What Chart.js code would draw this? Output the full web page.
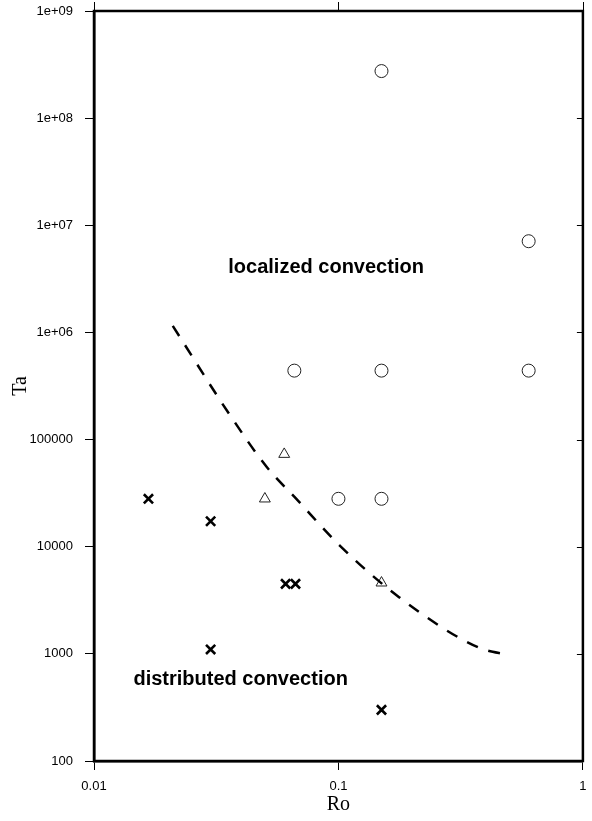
<!DOCTYPE html>
<html>
<head>
<meta charset="utf-8">
<script src="https://cdn.jsdelivr.net/npm/chart.js@4/dist/chart.umd.min.js"></script>
<style>
html,body{margin:0;padding:0;background:#fff;}
#wrap{width:592px;height:821px;}
</style>
</head>
<body>
<div id="wrap"><canvas id="c" width="592" height="821"></canvas></div>
<script>
// ---- data ----
const xTicks = [0.01, 0.1, 1];
const xTickLabels = ['0.01', '0.1', '1'];
const yTicks = [100, 1000, 10000, 100000, 1e6, 1e7, 1e8, 1e9];
const yTickLabels = ['100', '1000', '10000', '100000', '1e+06', '1e+07', '1e+08', '1e+09'];

const circleRo = [0.15, 0.6, 0.066, 0.15, 0.6, 0.1, 0.15];
const circleTa = [2.75e8, 7.1e6, 4.4e5, 4.4e5, 4.4e5, 2.8e4, 2.8e4];

const triangleRo = [0.06, 0.05, 0.15];
const triangleTa = [7.3e4, 2.8e4, 4.6e3];

const crossRo = [0.0167, 0.03, 0.0608, 0.0667, 0.03, 0.15];
const crossTa = [2.8e4, 1.73e4, 4.5e3, 4.5e3, 1.1e3, 300];

const boundaryRo = [0.021, 0.036, 0.051, 0.068, 0.101, 0.177, 0.373, 0.5];
const boundaryTa = [1.15e6, 1.69e5, 5.52e4, 2.72e4, 1.03e4, 3380, 1150, 970];

const regionLabels = ['localized convection', 'distributed convection'];
const regionRo = [0.089, 0.0398];
const regionTa = [4.07e6, 580];

const xTitle = 'Ro';
const yTitle = 'Ta';

function pts(xs, ys){ return xs.map((x,i)=>({x:x, y:ys[i]})); }

function noPad(s){ s.paddingTop = 0; s.paddingBottom = 0; s.paddingLeft = 0; s.paddingRight = 0; }

const framePlugin = {
  id: 'frame',
  afterDatasetsDraw(chart){
    const ctx = chart.ctx, a = chart.chartArea;
    const xs = chart.scales.x, ys = chart.scales.y;
    ctx.save();
    ctx.strokeStyle = '#000';
    ctx.lineWidth = 2.5;
    ctx.strokeRect(a.left, a.top, a.right - a.left, a.bottom - a.top);
    ctx.lineWidth = 1;
    // top ticks (outward) and right ticks (inward)
    xTicks.forEach(v=>{
      const px = Math.round(xs.getPixelForValue(v)) + 0.5;
      ctx.beginPath(); ctx.moveTo(px, a.top); ctx.lineTo(px, a.top - 9); ctx.stroke();
    });
    yTicks.forEach(v=>{
      const py = Math.round(ys.getPixelForValue(v)) + 0.5;
      ctx.beginPath(); ctx.moveTo(a.right, py); ctx.lineTo(a.right - 6, py); ctx.stroke();
    });
    // region labels
    ctx.fillStyle = '#000';
    ctx.font = 'bold 20px "Liberation Sans", Arial, sans-serif';
    ctx.textAlign = 'center';
    ctx.textBaseline = 'middle';
    regionLabels.forEach((t,i)=>{
      ctx.fillText(t, xs.getPixelForValue(regionRo[i]), ys.getPixelForValue(regionTa[i]));
    });
    ctx.restore();
  }
};

new Chart(document.getElementById('c'), {
  type: 'scatter',
  data: {
    datasets: [
      {
        label: 'boundary',
        data: pts(boundaryRo, boundaryTa),
        showLine: true,
        borderColor: '#000',
        borderWidth: 2.5,
        borderDash: [12, 11],
        pointRadius: 0,
        fill: false,
        cubicInterpolationMode: 'monotone'
      },
      {
        label: 'localized',
        data: pts(circleRo, circleTa),
        pointStyle: 'circle',
        pointRadius: 6.5,
        pointBorderWidth: 1,
        pointBorderColor: '#222',
        pointBackgroundColor: 'rgba(0,0,0,0)'
      },
      {
        label: 'transition',
        data: pts(triangleRo, triangleTa),
        pointStyle: 'triangle',
        pointRadius: 6.3,
        pointBorderWidth: 1,
        pointBorderColor: '#222',
        pointBackgroundColor: 'rgba(0,0,0,0)'
      },
      {
        label: 'distributed',
        data: pts(crossRo, crossTa),
        pointStyle: 'crossRot',
        pointRadius: 6.5,
        pointBorderWidth: 2.6,
        pointBorderColor: '#000',
        pointBackgroundColor: '#000'
      }
    ]
  },
  options: {
    responsive: false,
    animation: false,
    layout: { padding: { top: 11, right: 0, left: 0, bottom: 0 } },
    plugins: { legend: { display: false }, tooltip: { enabled: false } },
    scales: {
      x: {
        type: 'logarithmic',
        min: 0.01, max: 1,
        afterBuildTicks: s => { s.ticks = xTicks.map(v=>({value:v})); },
        afterFit: s => { s.height = 60; noPad(s); },
        ticks: {
          callback: (v) => { const i = xTicks.indexOf(v); return i >= 0 ? xTickLabels[i] : ''; },
          color: '#000',
          font: { family: '"Liberation Sans", Arial, sans-serif', size: 13 },
          padding: 9,
          maxRotation: 0, autoSkip: false
        },
        grid: { drawOnChartArea: false, drawTicks: true, tickLength: 9, color: '#000', lineWidth: 1 },
        border: { display: true, color: '#000', width: 2.5 },
        title: {
          display: true, text: xTitle, color: '#000',
          font: { family: '"Liberation Serif", "Times New Roman", serif', size: 20 },
          padding: { top: 0, bottom: 4 }
        }
      },
      y: {
        type: 'logarithmic',
        min: 100, max: 1e9,
        afterBuildTicks: s => { s.ticks = yTicks.map(v=>({value:v})); },
        afterFit: s => { s.width = 94; noPad(s); },
        ticks: {
          callback: (v) => { const i = yTicks.indexOf(v); return i >= 0 ? yTickLabels[i] : ''; },
          color: '#000',
          font: { family: '"Liberation Sans", Arial, sans-serif', size: 13 },
          padding: 12,
          autoSkip: false
        },
        grid: { drawOnChartArea: false, drawTicks: true, tickLength: 9, color: '#000', lineWidth: 1 },
        border: { display: true, color: '#000', width: 2.5 },
        title: {
          display: true, text: yTitle, color: '#000',
          font: { family: '"Liberation Serif", "Times New Roman", serif', size: 20 },
          padding: { top: 9, bottom: 0 }
        }
      }
    }
  },
  plugins: [framePlugin]
});
</script>
</body>
</html>
